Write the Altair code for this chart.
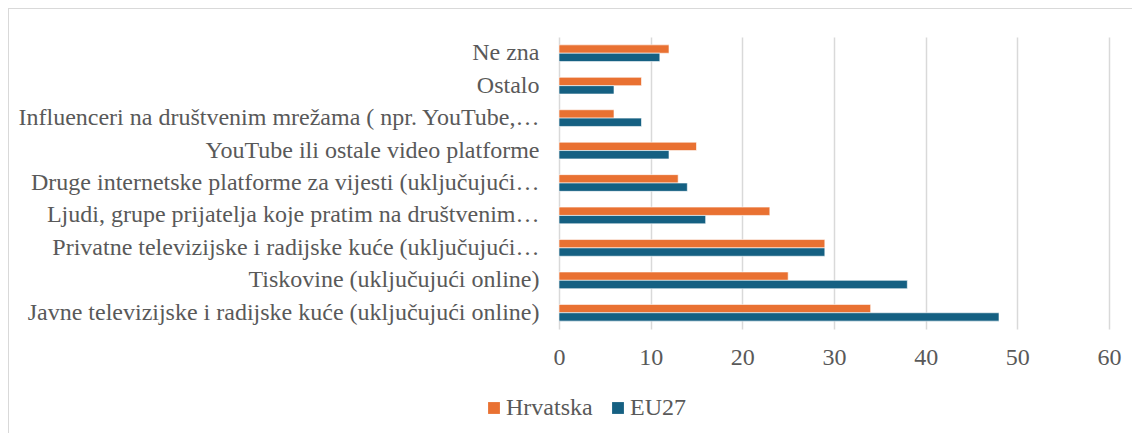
import altair as alt
import pandas as pd

categories = [
    "Ne zna",
    "Ostalo",
    "Influenceri na društvenim mrežama ( npr. YouTube,…",
    "YouTube ili ostale video platforme",
    "Druge internetske platforme za vijesti (uključujući…",
    "Ljudi, grupe prijatelja koje pratim na društvenim…",
    "Privatne televizijske i radijske kuće (uključujući…",
    "Tiskovine (uključujući online)",
    "Javne televizijske i radijske kuće (uključujući online)",
]
hrvatska = [12, 9, 6, 15, 13, 23, 29, 25, 34]
eu27 = [11, 6, 9, 12, 14, 16, 29, 38, 48]
series = ["Hrvatska", "EU27"]
colors = ["#E97132", "#156082"]

rows = []
for c, h, e in zip(categories, hrvatska, eu27):
    rows.append({"Kategorija": c, "Serija": "Hrvatska", "Vrijednost": h})
    rows.append({"Kategorija": c, "Serija": "EU27", "Vrijednost": e})
df = pd.DataFrame(rows)

FONT = "Liberation Serif"
GRAY = "#595959"
FS = 24

bars = alt.Chart(df).mark_bar(stroke="white", strokeWidth=0.6).encode(
    y=alt.Y("Kategorija:N", sort=categories, title=None,
            scale=alt.Scale(paddingInner=0.485, paddingOuter=0.2425),
            axis=alt.Axis(labelFont=FONT, labelFontSize=FS, labelColor=GRAY,
                          labelLimit=600, labelPadding=20, ticks=False,
                          domain=False)),
    yOffset=alt.YOffset("Serija:N", sort=series),
    x=alt.X("Vrijednost:Q", title=None,
            scale=alt.Scale(domain=[0, 60]),
            axis=alt.Axis(values=[0, 10, 20, 30, 40, 50, 60], labelFont=FONT,
                          labelFontSize=FS, labelColor=GRAY, ticks=False,
                          labelFlush=False,
                          domain=False, gridColor="#d9d9d9", gridWidth=1.5,
                          labelPadding=16)),
    color=alt.Color("Serija:N", sort=series,
                    scale=alt.Scale(domain=series, range=colors),
                    legend=alt.Legend(title=None, orient="none", direction="horizontal",
                                      legendX=-77, legendY=359, symbolType="square",
                                      symbolSize=140, symbolStrokeWidth=0,
                                      labelFont=FONT, labelFontSize=FS,
                                      labelColor=GRAY, columnPadding=13,
                                      labelOffset=0, padding=0)),
)

frame_top = alt.Chart(df).mark_rule(color="#d9d9d9", strokeWidth=1).encode(
    x=alt.value(-550.5), x2=alt.value(700), y=alt.value(-28.5)
)
frame_left = alt.Chart(df).mark_rule(color="#d9d9d9", strokeWidth=1).encode(
    x=alt.value(-550.5), y=alt.value(-28.5), y2=alt.value(500)
)

chart = alt.layer(bars, frame_top, frame_left).properties(
    width=550, height=292,
    autosize=alt.AutoSizeParams(type="none"),
    padding={"left": 551, "top": 29, "right": 23, "bottom": 104},
    background="white",
).configure_view(stroke=None)

chart.save("out.html", embed_options={"renderer": "svg", "actions": False})
